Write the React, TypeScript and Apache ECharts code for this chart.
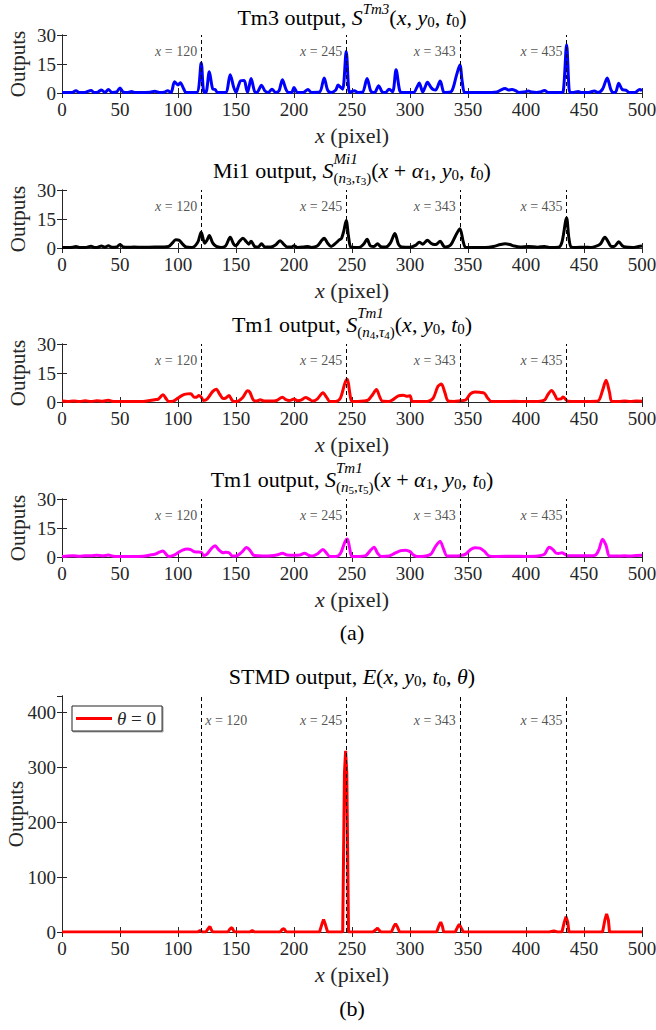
import React, { useEffect, useRef } from 'react';
import * as echarts from 'echarts';

const FONT = 'Liberation Serif, Times New Roman, serif';
const INK = '#262626';

const MARK_X = [120, 245, 343, 435];
const X_MIN = 0;
const X_MAX = 500;
const X_STEP = 50;
const PANEL_Y_MAX = 30;
const PANEL_Y_STEP = 15;
const STMD_Y_MAX = 430;
const STMD_Y_STEP = 100;
const LEGEND_NAME = 'θ = 0';

const tm3: [number, number][] = [
  [0,0.3],[5,0.2],[9,0.3],[12,1.2],[15,0.2],[20,0.3],[25,1.3],[28,0.2],[31,0.5],[34,1.6],[37,0.3],[40,1.8],[43,0.3],[47,0.5],[50,2.6],[53,0.4],[57,0.3],[60,0.8],[63,0.2],[70,0.3],[76,0.4],[80,0.9],[84,0.3],[88,0.4],[91,1.2],[94,0.2],[97,5.8],[100,4.2],[102,5.3],[105,2],[107,0.2],[116,0.2],[120,15.5],[122,1],[124,0.3],[127,11],[130,2],[132,1.8],[134,0.3],[141,0.3],[145,9.5],[148,3],[150,0.3],[152,3.5],[154,6.3],[157,6.5],[159,2],[160,0.4],[163,7.5],[166,0.8],[168,0.3],[172,4],[175,1],[178,0.3],[181,2],[184,0.3],[187,1],[190,6.8],[193,2],[195,0.3],[198,0.3],[200,2.8],[203,0.3],[208,0.3],[212,1.8],[215,0.3],[222,0.5],[226,7.8],[229,1.5],[232,0.3],[236,1.5],[238,4.2],[240,3],[242,2],[245,21.5],[247,3],[248,0.3],[252,1.2],[255,0.3],[259,0.4],[263,7.5],[266,1.2],[268,0.3],[270,0.5],[273,3.8],[276,0.6],[279,0.3],[282,2],[285,0.6],[288,12],[291,1.5],[293,0.3],[303,0.3],[306,3],[308,5.2],[311,0.5],[313,3],[315,5.5],[318,3],[320,1.8],[322,1.5],[326,6.2],[329,0.5],[331,0.3],[336,1],[340,9],[343,14.5],[345,6],[347,0.3],[350,0.3],[360,0.3],[370,0.3],[375,0.5],[378,1.5],[382,2.3],[385,1.5],[388,1.8],[391,1.2],[394,0.3],[398,0.5],[402,1],[405,0.5],[409,0.3],[412,0.5],[416,1.3],[419,0.3],[424,0.3],[430,0.3],[432,0.5],[435,25],[437,3],[438,0.3],[441,0.3],[445,0.8],[448,0.2],[454,0.3],[459,1],[462,0.3],[466,2],[470,7.8],[473,2],[475,0.3],[477,0.3],[480,5],[483,1.8],[486,1.5],[489,0.3],[494,0.3],[498,1.8],[500,1.2]
];

const mi1: [number, number][] = [
  [0,0.3],[5,0.3],[9,0.4],[12,0.8],[15,0.3],[20,0.3],[25,0.9],[28,0.3],[31,0.4],[34,1],[37,0.4],[40,1.1],[43,0.4],[47,0.5],[50,1.8],[53,0.5],[57,0.4],[62,0.5],[70,0.4],[80,0.5],[88,0.5],[92,0.8],[95,2.5],[98,4.3],[101,4],[104,2],[107,0.5],[112,0.3],[117,3],[120,8.2],[123,2.5],[125,4],[127,6.5],[130,2.5],[133,0.8],[137,0.3],[141,1],[145,5.5],[148,2],[150,1.2],[153,3.5],[156,5],[159,3.2],[161,2],[163,3.5],[166,0.8],[169,0.5],[172,2.2],[175,0.5],[180,0.5],[184,1.5],[188,3.8],[191,2],[194,0.5],[198,0.5],[200,1.2],[203,0.3],[208,0.5],[212,0.8],[215,0.3],[220,1],[224,4],[226,5],[229,2.5],[232,0.8],[236,2.5],[239,4.2],[241,5],[243,9],[245,14.2],[247,6],[249,0.5],[253,0.3],[256,0.3],[260,2],[263,4.5],[266,1],[269,0.8],[272,2.2],[275,0.6],[279,0.5],[283,2.5],[287,7.5],[290,2],[293,0.5],[300,0.4],[305,1.5],[308,3],[311,2],[315,4],[318,2.5],[321,1.8],[323,2],[326,3.5],[329,1],[331,0.5],[335,1.5],[339,6],[343,10],[346,3],[348,0.3],[355,0.3],[365,0.3],[372,0.8],[378,1.8],[382,2.2],[386,1.8],[390,1],[395,0.5],[402,0.8],[410,0.4],[416,0.8],[420,0.3],[428,0.4],[431,3],[435,15.5],[437,5],[439,0.5],[443,0.3],[450,0.4],[456,0.3],[460,0.8],[464,2],[468,5.5],[471,3],[473,1],[476,0.8],[480,3.2],[483,1.2],[486,0.5],[492,0.3],[497,0.8],[500,1]
];

const tm1a: [number, number][] = [
  [0,0.5],[5,0.3],[10,0.5],[15,0.3],[20,0.6],[25,0.3],[30,0.6],[35,0.4],[40,0.9],[44,0.3],[50,0.3],[60,0.2],[70,0.3],[76,0.8],[80,1.2],[83,1.5],[87,3.7],[90,1.5],[92,0.2],[96,0.5],[100,2],[104,3.6],[108,4.2],[111,4.3],[114,2.5],[116,2.5],[118,3.4],[120,2.5],[122,0.8],[125,1.5],[130,5.5],[133,6.6],[136,4],[139,1.8],[141,2],[144,3.3],[146,1.5],[148,0.2],[152,0.5],[156,2.5],[160,5.8],[162,5],[165,1],[168,0.5],[171,1.2],[174,0.5],[180,0.5],[185,0.8],[190,2.5],[193,1.2],[196,0.8],[200,1.5],[203,0.7],[206,1],[210,2.3],[213,1.5],[216,0.5],[220,1.5],[225,4.8],[228,2.5],[231,0.2],[236,0.3],[240,2],[244,10],[246,11.8],[248,5],[250,0.3],[255,0.3],[260,0.5],[264,1],[268,4],[271,6.5],[274,2.5],[276,0.5],[282,0.3],[286,1.5],[290,3.2],[294,3.5],[297,3],[300,3.2],[302,0.3],[308,0.2],[315,0.3],[320,2],[324,8],[327,9.3],[330,5],[333,0.5],[338,0.3],[343,0.6],[348,1],[352,4.2],[356,5.2],[360,5],[364,4.6],[367,2],[370,0.3],[380,0.2],[390,0.4],[400,0.2],[410,0.3],[416,1],[419,4],[422,6],[425,3.5],[427,1.4],[430,1.6],[432,2.6],[434,1.5],[436,0.4],[445,0.3],[455,0.3],[462,0.5],[466,6],[469,11.3],[472,5],[474,0.3],[480,0.3],[485,0.5],[490,0.3],[495,0.5],[500,0.4]
];

const tm1b: [number, number][] = [
  [0,0.3],[5,0.5],[10,0.6],[15,0.4],[20,0.7],[25,0.6],[30,0.9],[35,0.6],[40,1],[44,0.4],[50,0.3],[60,0.3],[70,0.4],[76,1],[80,1.4],[84,2.5],[87,3.1],[90,1.2],[92,0.3],[96,0.8],[100,2.2],[104,3.6],[108,4.1],[111,3.8],[114,2.7],[117,2.6],[120,2.4],[122,0.8],[125,1.5],[129,4.5],[132,5.8],[135,3.8],[139,2.2],[141,2.5],[144,2.2],[147,0.5],[150,0.5],[155,2.5],[159,4.9],[162,3.5],[165,1],[170,0.6],[175,0.5],[180,0.6],[186,1.2],[190,1.9],[194,1],[200,0.9],[205,1],[209,1.9],[213,0.8],[216,0.5],[220,1.5],[225,3.9],[228,2],[231,0.3],[236,0.3],[240,1.8],[244,8],[246,9.3],[248,4.5],[250,0.3],[256,0.3],[262,0.8],[266,3.5],[269,5.1],[272,2],[275,0.3],[282,0.5],[287,2],[292,3.3],[296,3.5],[300,2.8],[303,1],[306,0.3],[312,0.4],[318,1.5],[322,5.5],[326,8],[329,4],[332,0.5],[338,0.5],[343,0.7],[348,1.5],[352,3.8],[356,4.8],[360,4.6],[364,3],[368,0.6],[375,0.3],[390,0.4],[400,0.3],[410,0.5],[416,1.5],[420,5.1],[423,4],[426,2],[428,1.8],[431,2.2],[433,1.6],[436,0.6],[445,0.6],[455,0.6],[460,1],[463,4],[466,9.2],[469,6],[472,0.5],[478,0.5],[485,0.6],[490,0.5],[495,0.8],[500,0.9]
];

const stmd: [number, number][] = [
  [0,0],[100,0],[117,0],[119,3],[121,0],[124,0],[126,6],[127.5,10],[129,3],[130,0],[143,0],[145,6],[146.5,8],[148,2],[149,0],[162,0],[164,2.5],[166,0],[188,0],[190,5],[191.5,6],[193,1],[194,0],[222,0],[224,14],[225.5,23],[227,14],[229,0],[242,0],[243.5,290],[244.5,330],[245.5,290],[247,0],[268,0],[270.5,4],[272,7],[273.5,3],[275,0],[284,0],[286,10],[287.5,15],[289,10],[291,0],[323,0],[325,12],[326.5,18],[328,10],[329,0],[339,0],[341,9],[342.5,14],[344,8],[346,0],[420,0],[424,2],[427,0],[431,0],[433,18],[434.5,28],[436,18],[437,0],[466,0],[468,22],[469.5,33],[471,22],[472,0],[500,0]
];

type Piece = { t?: string; s?: number; it?: boolean; dy?: number; op?: 'mark' | 'back' | 'max' };
const BS = 22;
const SS = 15;
const n = (t: string): Piece => ({ t, s: BS });
const i = (t: string): Piece => ({ t, s: BS, it: true });
const sup = (t: string, it = true): Piece => ({ t, s: SS, it, dy: -8 });
const sub = (t: string, it = false): Piece => ({ t, s: SS, it, dy: 5 });
const ssub = (t: string, it = false): Piece => ({ t, s: SS, it, dy: 8 });
const sssub = (t: string): Piece => ({ t, s: 11, dy: 11 });
const MARK: Piece = { op: 'mark' };
const BACK: Piece = { op: 'back' };
const MAX: Piece = { op: 'max' };

const args = (withAlpha: boolean, extra: Piece[] = []): Piece[] => [
  n('('), i('x'),
  ...(withAlpha ? [n(' + '), i('α'), sub('1')] : []),
  n(', '), i('y'), sub('0'), n(', '), i('t'), sub('0'), ...extra, n(')'),
];
const stacked = (top: string, k: string): Piece[] => [
  MARK, { t: top, s: SS, it: true, dy: -11 }, BACK,
  ssub('('), ssub('n', true), sssub(k), ssub(','), ssub('τ', true), sssub(k), ssub(')'),
  MAX,
];

const TITLES: Piece[][] = [
  [n('Tm3 output, '), i('S'), sup('Tm3'), ...args(false)],
  [n('Mi1 output, '), i('S'), ...stacked('Mi1', '3'), ...args(true)],
  [n('Tm1 output, '), i('S'), ...stacked('Tm1', '4'), ...args(false)],
  [n('Tm1 output, '), i('S'), ...stacked('Tm1', '5'), ...args(true)],
  [n('STMD output, '), i('E'), ...args(false, [n(', '), i('θ')])],
];
const XNAME: Piece[] = [i('x'), n(' (pixel)')];

const GRIDS = [
  { top: 35, height: 58, titleY: 17 },
  { top: 190, height: 58, titleY: 170 },
  { top: 344, height: 58, titleY: 324 },
  { top: 499, height: 58, titleY: 479 },
  { top: 696, height: 236, titleY: 676 },
];
const LEFT = 62;
const WIDTH = 580;
const COLORS = ['#0000ff', '#000000', '#ff0000', '#ff00ff', '#ff0000'];
const SERIES = [tm3, mi1, tm1a, tm1b, stmd];

export default function App() {
  const ref = useRef<HTMLDivElement>(null);
  useEffect(() => {
    if (!ref.current) return;
    const chart = echarts.init(ref.current, undefined, { renderer: 'svg' });
    const ctx = document.createElement('canvas').getContext('2d')!;
    const fontOf = (s: number, it?: boolean) => `${it ? 'italic ' : ''}${s}px ${FONT}`;

    const layout = (pieces: Piece[], cx: number, cy: number, color: string) => {
      let x = 0, markX = 0, maxX = 0;
      const items: { x: number; p: Piece }[] = [];
      for (const p of pieces) {
        if (p.op === 'mark') { markX = x; maxX = x; continue; }
        if (p.op === 'back') { x = markX; continue; }
        if (p.op === 'max') { x = maxX; continue; }
        ctx.font = fontOf(p.s ?? BS, p.it);
        const w = ctx.measureText(p.t!).width;
        items.push({ x, p });
        x += w;
        maxX = Math.max(maxX, x);
      }
      const x0 = cx - x / 2;
      return items.map(({ x: px, p }) => ({
        type: 'text',
        x: x0 + px,
        y: cy + (p.dy ?? 0),
        silent: true,
        style: {
          text: p.t,
          fontSize: p.s ?? BS,
          fontFamily: FONT,
          fontStyle: p.it ? 'italic' : 'normal',
          fill: color,
          align: 'left',
          verticalAlign: 'middle',
          textAlign: 'left',
          textVerticalAlign: 'middle',
        },
      }));
    };

    const cx = LEFT + WIDTH / 2;
    const graphics: any[] = [];
    GRIDS.forEach((g, k) => {
      graphics.push(...layout(TITLES[k], cx, g.titleY, '#000'));
      graphics.push(...layout(XNAME, cx, g.top + g.height + 42, INK));
    });
    graphics.push(...layout([n('(a)')], cx, 632, '#000'));
    graphics.push(...layout([n('(b)')], cx, 1008, '#000'));

    const axisLine = { show: true, lineStyle: { color: INK, width: 1 } };
    const axisTick = { show: true, inside: true, length: 5, lineStyle: { color: INK, width: 1 } };
    const labelStyle = { fontSize: 19, fontFamily: FONT, color: INK };

    const xAxis: any[] = [];
    const yAxis: any[] = [];
    const series: any[] = [];
    GRIDS.forEach((g, k) => {
      const isB = k === 4;
      const ymax = isB ? STMD_Y_MAX : PANEL_Y_MAX;
      const ystep = isB ? STMD_Y_STEP : PANEL_Y_STEP;
      xAxis.push({
        type: 'value', gridIndex: k, min: X_MIN, max: X_MAX, interval: X_STEP, position: 'bottom',
        axisLine, axisTick, splitLine: { show: false },
        axisLabel: { ...labelStyle, margin: 7 },
      });
      xAxis.push({
        type: 'value', gridIndex: k, min: X_MIN, max: X_MAX, interval: X_STEP, position: 'top',
        axisLine, axisTick, splitLine: { show: false }, axisLabel: { show: false },
      });
      yAxis.push({
        type: 'value', gridIndex: k, min: 0, max: ymax, interval: ystep, position: 'left',
        axisLine, axisTick, splitLine: { show: false },
        axisLabel: { ...labelStyle, margin: 6, showMaxLabel: !isB },
        name: 'Outputs', nameLocation: 'middle', nameRotate: 90, nameGap: isB ? 36 : 34,
        nameMoveOverlap: false,
        nameTextStyle: { fontSize: 21, fontFamily: FONT, color: INK },
      });
      yAxis.push({
        type: 'value', gridIndex: k, min: 0, max: ymax, interval: ystep, position: 'right',
        axisLine, axisTick, splitLine: { show: false }, axisLabel: { show: false },
      });
      series.push({
        type: 'line', name: isB ? LEGEND_NAME : `s${k}`, xAxisIndex: 2 * k, yAxisIndex: 2 * k,
        data: SERIES[k], showSymbol: false, symbol: 'none', smooth: isB ? false : 0.3,
        lineStyle: { color: COLORS[k], width: 3 }, itemStyle: { color: COLORS[k] },
        z: 3,
        markLine: {
          silent: true, symbol: ['none', 'none'], label: { show: false },
          lineStyle: { type: [4, 3], color: '#000', width: 1 },
          data: MARK_X.map((v) => ({ xAxis: v })),
        },
      });
      const ly = isB ? 385 : 21.5;
      series.push({
        type: 'scatter', name: `lab${k}`, xAxisIndex: 2 * k, yAxisIndex: 2 * k, symbolSize: 0, silent: true,
        z: 5,
        data: MARK_X.map((v, j) => ({
          value: [v, ly],
          label: { position: isB && j === 0 ? 'right' : 'left' },
        })),
        label: {
          show: true, position: 'left', distance: 4,
          formatter: (p: any) => `{i|x} = ${p.value[0]}`,
          fontSize: 14, fontFamily: FONT, color: INK,
          rich: { i: { fontStyle: 'italic', fontSize: 14, fontFamily: FONT, color: INK } },
        },
      });
    });

    chart.setOption({
      animation: false,
      backgroundColor: '#fff',
      grid: GRIDS.map((g) => ({
        left: LEFT, width: WIDTH, top: g.top, height: g.height,
        containLabel: false, outerBoundsMode: 'none',
      })),
      xAxis,
      yAxis,
      series,
      legend: {
        data: [{ name: LEGEND_NAME, icon: 'rect' }],
        left: 72, top: 706,
        itemWidth: 36, itemHeight: 3,
        backgroundColor: '#fff', borderColor: INK, borderWidth: 1,
        padding: [3, 6, 3, 4],
        shadowColor: 'rgba(0,0,0,0.35)', shadowOffsetX: 1, shadowOffsetY: 1, shadowBlur: 1,
        formatter: () => '{i|θ} = 0',
        textStyle: {
          fontSize: 19, fontFamily: FONT, color: INK,
          rich: { i: { fontStyle: 'italic', fontSize: 19, fontFamily: FONT, color: INK } },
        },
        selectedMode: false,
      },
      graphic: graphics,
    });
    return () => chart.dispose();
  }, []);
  return (
    <div
      ref={ref}
      style={{ position: 'absolute', left: 0, top: 0, width: 656, height: 1030, background: '#fff' }}
    />
  );
}
